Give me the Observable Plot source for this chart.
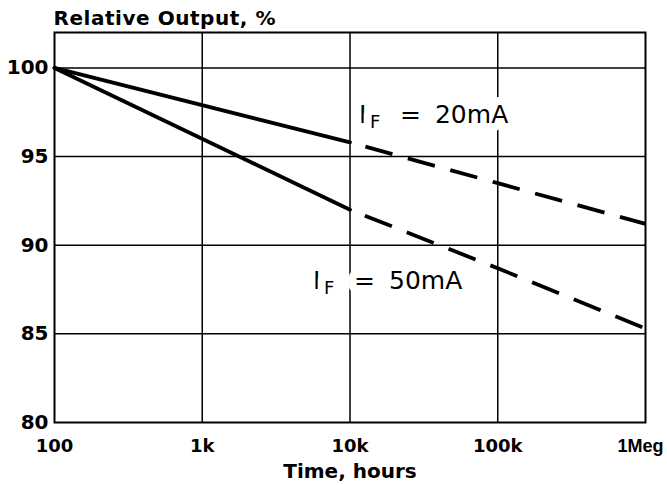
<!DOCTYPE html>
<html>
<head>
<meta charset="utf-8">
<script src="https://cdn.jsdelivr.net/npm/d3@7"></script>
<script src="https://cdn.jsdelivr.net/npm/@observablehq/plot@0.6"></script>
<style>
  body { margin: 0; background: #fff; }
  #chart svg { display: block; }
</style>
</head>
<body>
<div id="chart"></div>
<script>
// ---- data ----
const timeSolid = [100, 10000];            // hours (measured)
const out20Solid = [100, 95.8];            // % at IF = 20mA
const out50Solid = [100, 92.0];            // % at IF = 50mA
const timeDashed = [10000, 100000, 1000000]; // hours (extrapolated)
const out20Dashed = [95.8, 93.5, 91.2];
const out50Dashed = [92.0, 88.7, 85.3];

const xTicks = [100, 1000, 10000, 100000, 1000000];
const xTickLabels = ["100", "1k", "10k", "100k", "1Meg"];
const yTicks = [80, 85, 90, 95, 100];
const gridX = [1000, 10000, 100000];
const gridY = [85, 90, 95, 100];

const labelTimes = [11500, 5620];
const labelOutputs = [97.35, 88.0];
const labelCurrents = ["20mA", "50mA"];

const titleText = "Relative Output, %";
const xLabelText = "Time, hours";

// ---- tables built from the arrays ----
const solid20 = timeSolid.map((t, i) => ({t, v: out20Solid[i]}));
const solid50 = timeSolid.map((t, i) => ({t, v: out50Solid[i]}));
const dashed20 = timeDashed.map((t, i) => ({t, v: out20Dashed[i]}));
const dashed50 = timeDashed.map((t, i) => ({t, v: out50Dashed[i]}));
const labels = labelTimes.map((t, i) => ({t, v: labelOutputs[i], cur: labelCurrents[i]}));
const tickLabel = new Map(xTicks.map((t, i) => [t, xTickLabels[i]]));

const lblFont = "DejaVu Sans";
const halo = {stroke: "white", strokeWidth: 16, paintOrder: "stroke", fill: "black"};

const chart = Plot.plot({
  width: 667,
  height: 485,
  marginLeft: 54,
  marginRight: 22,
  marginTop: 32,
  marginBottom: 63,
  style: {fontFamily: "DejaVu Sans", background: "white", color: "black"},
  x: {type: "log", domain: [100, 1000000]},
  y: {domain: [80, 102]},
  marks: [
    Plot.ruleX(gridX, {stroke: "black", strokeWidth: 1.5}),
    Plot.ruleY(gridY, {stroke: "black", strokeWidth: 1.5}),
    Plot.text(labels, {x: "t", y: "v", text: () => "I", textAnchor: "start", lineAnchor: "middle",
      fontSize: 25, fontFamily: lblFont, ...halo}),
    Plot.text(labels, {x: "t", y: "v", text: () => "F", textAnchor: "start", lineAnchor: "middle",
      dx: 11, dy: 7.8, fontSize: 18, fontFamily: lblFont, ...halo}),
    Plot.text(labels, {x: "t", y: "v", text: () => "=", textAnchor: "start", lineAnchor: "middle",
      dx: 41, fontSize: 25, fontFamily: lblFont, ...halo}),
    Plot.text(labels, {x: "t", y: "v", text: "cur", textAnchor: "start", lineAnchor: "middle",
      dx: 76, fontSize: 25, fontFamily: lblFont, ...halo}),
    Plot.line(solid20, {x: "t", y: "v", stroke: "black", strokeWidth: 3.8}),
    Plot.line(solid50, {x: "t", y: "v", stroke: "black", strokeWidth: 3.8}),
    Plot.line(dashed20, {x: "t", y: "v", stroke: "black", strokeWidth: 3.8,
      strokeDasharray: "28,16", strokeDashoffset: 28, strokeLinecap: "butt"}),
    Plot.line(dashed50, {x: "t", y: "v", stroke: "black", strokeWidth: 3.8,
      strokeDasharray: "29,16", strokeDashoffset: 29, strokeLinecap: "butt"}),
    Plot.frame({stroke: "black", strokeWidth: 2}),
    Plot.axisY(yTicks, {tickSize: 0, tickPadding: 6, fontSize: 20, fontWeight: "bold", label: null}),
    Plot.axisX(xTicks, {tickSize: 0, tickPadding: 17, fontSize: 18, fontWeight: "bold", label: null,
      tickFormat: (d) => tickLabel.get(d)}),
    Plot.text([titleText], {frameAnchor: "top-left", textAnchor: "start", lineAnchor: "middle",
      dx: -1, dy: -14.4, fontSize: 20, fontWeight: "bold"}),
    Plot.text([xLabelText], {frameAnchor: "bottom", textAnchor: "middle", lineAnchor: "middle",
      dy: 48.6, fontSize: 20, fontWeight: "bold"})
  ]
});
// the reference's "1Meg" is narrower than the other tick labels
d3.select(chart).selectAll("text").filter(function () { return this.textContent === "1Meg"; })
  .style("font-family", "'Liberation Sans', Arial, sans-serif").attr("dx", -5);
d3.select(chart).selectAll("text").filter(function () { return this.textContent === titleText; })
  .attr("textLength", 222).attr("lengthAdjust", "spacing");
document.getElementById("chart").appendChild(chart);
</script>
</body>
</html>
